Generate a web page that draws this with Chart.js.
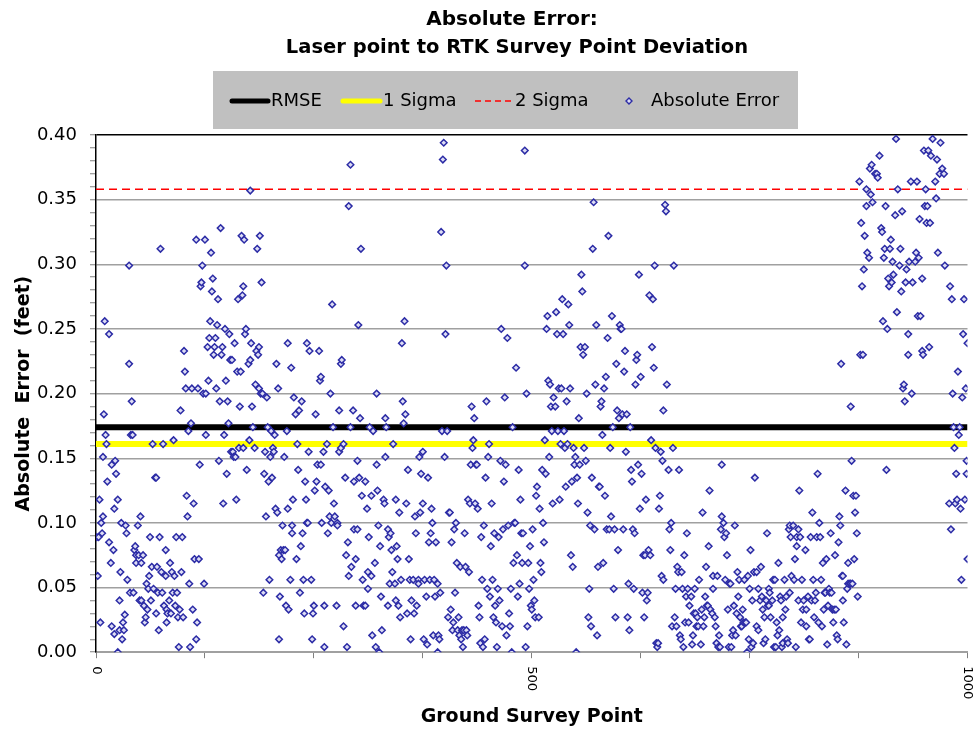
<!DOCTYPE html>
<html>
<head>
<meta charset="utf-8">
<script src="https://cdn.jsdelivr.net/npm/chart.js@4.4.0/dist/chart.umd.min.js"></script>
<style>
  html, body { margin: 0; padding: 0; background: #fff; }
  #wrap { width: 973px; height: 733px; }
</style>
</head>
<body>
<div id="wrap"><canvas id="chart-abs-error" width="973" height="733"></canvas></div>
<script>
'use strict';

/* Texts */
const titleText    = 'Absolute Error:';
const subtitleText = 'Laser point to RTK Survey Point Deviation';
const xTitleText   = 'Ground Survey Point';
const yTitleText   = 'Absolute  Error  (feet)';

/* Reference levels (feet) */
const rmseLevel   = 0.174;
const sigma1Level = 0.161;
const sigma2Level = 0.358;

/* Axis ranges and labelled ticks */
const xRange      = [0, 1000];
const xTickLabels = [0, 500, 1000];
const yRange      = [0, 0.4];

/* Absolute error per ground survey point, [point, error] */
const errPoints0to245 = [
  [1,0.089],[3,0.089],[2,0.059],[4,0.118],[5,0.023],[6,0.100],[7,0.092],[8,0.151],[8,0.105],[9,0.184],
  [10,0.256],[11,0.168],[12,0.161],[13,0.132],[15,0.246],[15,0.085],[17,0.069],[18,0.020],[18,0.145],[20,0.079],
  [21,0.014],[21,0.111],[22,0.148],[23,0.138],[25,0.000],[25,0.118],[27,0.040],[27,0.017],[28,0.062],[29,0.100],
  [30,0.010],[31,0.023],[32,0.017],[33,0.029],[34,0.098],[35,0.092],[36,0.056],[38,0.223],[38,0.299],[39,0.046],
  [40,0.168],[41,0.194],[42,0.168],[43,0.046],[44,0.079],[45,0.082],[46,0.069],[46,0.075],[48,0.098],[49,0.075],
  [50,0.040],[51,0.105],[52,0.069],[52,0.040],[54,0.075],[55,0.036],[56,0.023],[57,0.027],[58,0.053],[59,0.033],
  [60,0.049],[61,0.059],[62,0.089],[63,0.040],[64,0.066],[65,0.161],[66,0.049],[68,0.135],[69,0.135],[69,0.030],
  [70,0.066],[71,0.046],[72,0.017],[73,0.089],[74,0.312],[75,0.062],[76,0.046],[77,0.161],[78,0.036],[80,0.059],
  [80,0.079],[81,0.033],[81,0.023],[82,0.030],[84,0.040],[85,0.069],[86,0.030],[87,0.062],[88,0.046],[89,0.164],
  [90,0.059],[91,0.036],[92,0.089],[93,0.046],[94,0.027],[95,0.004],[96,0.033],[97,0.187],[98,0.062],[99,0.089],
  [100,0.027],[101,0.233],[102,0.217],[103,0.204],[104,0.121],[105,0.105],[106,0.171],[107,0.053],[108,0.004],[109,0.177],
  [110,0.204],[111,0.033],[112,0.115],[113,0.072],[115,0.010],[115,0.319],[116,0.023],[117,0.204],[118,0.072],[119,0.145],
  [120,0.283],[121,0.286],[122,0.299],[123,0.200],[124,0.053],[125,0.319],[126,0.168],[126,0.200],[128,0.236],[129,0.210],
  [130,0.243],[131,0.256],[132,0.309],[133,0.279],[134,0.289],[135,0.230],[136,0.236],[137,0.243],[138,0.204],[139,0.253],
  [140,0.273],[141,0.148],[142,0.194],[143,0.328],[144,0.230],[145,0.236],[146,0.115],[147,0.168],[148,0.250],[149,0.210],
  [150,0.138],[151,0.194],[152,0.177],[153,0.246],[154,0.226],[155,0.155],[156,0.226],[157,0.155],[158,0.151],[159,0.239],
  [160,0.151],[161,0.118],[162,0.217],[163,0.273],[164,0.158],[165,0.190],[166,0.217],[167,0.322],[168,0.276],[169,0.283],
  [169,0.158],[170,0.319],[171,0.246],[172,0.250],[173,0.141],[175,0.223],[176,0.164],[177,0.226],[177,0.357],[178,0.239],
  [179,0.190],[180,0.174],[182,0.158],[183,0.207],[184,0.233],[185,0.312],[186,0.230],[187,0.204],[187,0.236],[188,0.322],
  [189,0.200],[190,0.286],[191,0.200],[192,0.046],[193,0.138],[194,0.155],[195,0.105],[196,0.197],[197,0.174],[198,0.132],
  [199,0.056],[200,0.151],[201,0.171],[202,0.135],[203,0.158],[204,0.155],[205,0.168],[206,0.111],[207,0.223],[208,0.108],
  [209,0.204],[210,0.075],[210,0.010],[211,0.043],[212,0.079],[213,0.072],[214,0.098],[215,0.079],[216,0.151],[217,0.079],
  [218,0.036],[219,0.171],[220,0.239],[220,0.111],[221,0.033],[223,0.056],[224,0.220],[225,0.098],[225,0.092],[226,0.118],
  [227,0.197],[229,0.184],[230,0.072],[231,0.161],[232,0.141],[233,0.187],[234,0.046],[235,0.082],[236,0.194],[237,0.092],
  [238,0.056],[239,0.030],[240,0.132],[241,0.118],[242,0.239],[242,0.100],[243,0.100],[244,0.155],[245,0.233],
];

const errPoints246to506 = [
  [247,0.056],[248,0.010],[249,0.030],[250,0.036],[251,0.125],[252,0.184],[253,0.132],[254,0.145],[256,0.233],[257,0.210],
  [258,0.213],[258,0.145],[259,0.100],[261,0.155],[262,0.004],[262,0.036],[263,0.128],[265,0.161],[266,0.092],[267,0.125],
  [268,0.105],[269,0.200],[270,0.100],[271,0.269],[272,0.174],[273,0.115],[274,0.105],[276,0.036],[277,0.100],[277,0.098],
  [279,0.155],[279,0.187],[281,0.158],[281,0.223],[282,0.226],[284,0.161],[284,0.020],[286,0.135],[287,0.075],[288,0.004],
  [289,0.085],[290,0.059],[290,0.345],[292,0.174],[292,0.377],[293,0.066],[295,0.187],[296,0.132],[296,0.095],[298,0.072],
  [298,0.036],[300,0.095],[300,0.148],[301,0.253],[302,0.135],[303,0.181],[304,0.312],[305,0.121],[306,0.056],[307,0.036],
  [309,0.132],[309,0.036],[311,0.111],[312,0.049],[312,0.062],[313,0.089],[314,0.174],[316,0.121],[316,0.059],[317,0.013],
  [318,0.171],[320,0.069],[321,0.004],[322,0.200],[322,0.145],[323,0.125],[324,0.098],[325,0.000],[326,0.082],[327,0.043],
  [328,0.017],[330,0.118],[331,0.115],[332,0.181],[332,0.151],[333,0.174],[335,0.036],[335,0.095],[336,0.089],[337,0.053],
  [338,0.092],[339,0.079],[340,0.062],[341,0.161],[343,0.053],[344,0.118],[344,0.040],[345,0.082],[346,0.072],[347,0.036],
  [348,0.108],[349,0.027],[350,0.056],[351,0.239],[352,0.194],[353,0.177],[354,0.256],[355,0.184],[356,0.115],[357,0.030],
  [358,0.141],[359,0.072],[360,0.056],[361,0.010],[362,0.040],[364,0.056],[365,0.030],[366,0.105],[367,0.092],[368,0.036],
  [370,0.056],[370,0.053],[371,0.151],[372,0.108],[373,0.138],[375,0.155],[375,0.115],[376,0.010],[377,0.056],[379,0.043],
  [380,0.006],[381,0.135],[382,0.085],[383,0.056],[384,0.092],[385,0.111],[386,0.100],[387,0.013],[388,0.056],[389,0.043],
  [390,0.085],[392,0.053],[392,0.000],[393,0.013],[394,0.010],[395,0.046],[396,0.325],[397,0.171],[398,0.381],[399,0.394],
  [400,0.151],[401,0.246],[402,0.299],[403,0.171],[404,0.027],[405,0.108],[406,0.108],[407,0.033],[408,0.085],[409,0.017],
  [410,0.023],[411,0.095],[412,0.046],[413,0.100],[414,0.069],[415,0.017],[416,0.027],[417,0.013],[418,0.066],[419,0.010],
  [420,0.017],[421,0.004],[422,0.017],[423,0.092],[424,0.066],[425,0.017],[426,0.013],[427,0.118],[428,0.062],[429,0.115],
  [430,0.145],[431,0.190],[432,0.158],[433,0.164],[434,0.181],[435,0.115],[436,0.145],[437,0.145],[438,0.111],[439,0.036],
  [440,0.027],[441,0.007],[442,0.089],[443,0.056],[444,0.004],[445,0.098],[446,0.010],[447,0.135],[448,0.194],[449,0.049],
  [450,0.151],[451,0.161],[452,0.043],[453,0.082],[454,0.115],[455,0.056],[456,0.027],[457,0.092],[458,0.036],[459,0.023],
  [460,0.004],[461,0.049],[462,0.089],[463,0.040],[464,0.148],[465,0.250],[466,0.020],[467,0.095],[468,0.132],[469,0.197],
  [470,0.145],[471,0.013],[472,0.243],[473,0.098],[474,0.030],[475,0.020],[476,0.049],[477,0.000],[478,0.174],[479,0.069],
  [480,0.100],[481,0.100],[482,0.220],[483,0.075],[484,0.043],[485,0.141],[486,0.053],[487,0.118],[488,0.092],[489,0.069],
  [490,0.092],[492,0.299],[492,0.388],[493,0.004],[494,0.200],[495,0.020],[496,0.069],[497,0.049],[498,0.082],[499,0.036],
  [500,0.033],[501,0.095],[502,0.056],[503,0.040],[504,0.027],[505,0.121],[506,0.128],
];

const errPoints507to756 = [
  [508,0.027],[509,0.111],[510,0.069],[511,0.062],[512,0.141],[513,0.100],[514,0.085],[515,0.164],[516,0.138],[517,0.250],
  [518,0.260],[519,0.210],[520,0.151],[521,0.207],[522,0.190],[523,0.171],[524,0.115],[525,0.197],[527,0.190],[528,0.263],
  [529,0.246],[530,0.171],[531,0.204],[532,0.118],[533,0.161],[534,0.204],[535,0.273],[536,0.246],[537,0.171],[538,0.158],
  [539,0.128],[540,0.194],[541,0.161],[542,0.269],[543,0.253],[544,0.204],[545,0.075],[546,0.132],[547,0.066],[548,0.158],
  [549,0.145],[550,0.151],[551,0.000],[552,0.135],[553,0.115],[554,0.181],[555,0.145],[556,0.236],[557,0.292],[558,0.279],
  [559,0.230],[560,0.158],[561,0.236],[562,0.148],[563,0.200],[564,0.108],[565,0.027],[566,0.049],[567,0.098],[568,0.020],
  [569,0.135],[570,0.312],[571,0.348],[572,0.095],[573,0.207],[574,0.253],[575,0.013],[576,0.066],[577,0.128],[578,0.128],
  [579,0.190],[580,0.194],[581,0.168],[582,0.069],[583,0.204],[584,0.121],[585,0.213],[586,0.095],[587,0.243],[588,0.322],
  [589,0.095],[590,0.158],[591,0.105],[592,0.260],[593,0.174],[594,0.049],[595,0.095],[596,0.027],[597,0.223],[598,0.187],
  [599,0.079],[600,0.181],[601,0.253],[602,0.250],[603,0.250],[604,0.184],[605,0.095],[606,0.217],[607,0.233],[608,0.155],
  [609,0.184],[610,0.027],[611,0.053],[612,0.017],[613,0.174],[614,0.141],[615,0.132],[616,0.095],[617,0.049],[618,0.092],
  [619,0.207],[620,0.226],[621,0.230],[622,0.145],[623,0.292],[624,0.111],[625,0.213],[626,0.138],[627,0.046],[628,0.075],
  [629,0.027],[630,0.075],[631,0.118],[632,0.040],[633,0.046],[634,0.079],[635,0.276],[636,0.075],[637,0.164],[638,0.236],
  [639,0.273],[640,0.220],[641,0.299],[642,0.158],[643,0.007],[644,0.004],[645,0.007],[646,0.111],[647,0.121],[648,0.155],
  [649,0.059],[650,0.148],[651,0.056],[651,0.187],[653,0.346],[654,0.341],[655,0.207],[657,0.141],[658,0.095],[659,0.079],
  [660,0.100],[661,0.020],[662,0.158],[663,0.299],[664,0.027],[665,0.049],[666,0.020],[667,0.066],[668,0.062],[669,0.141],
  [670,0.013],[671,0.010],[672,0.062],[673,0.049],[674,0.004],[675,0.075],[676,0.023],[677,0.043],[678,0.092],[679,0.049],
  [680,0.023],[681,0.036],[683,0.043],[684,0.006],[685,0.013],[686,0.030],[687,0.049],[688,0.030],[689,0.020],[690,0.027],
  [691,0.020],[692,0.056],[694,0.006],[695,0.033],[696,0.108],[697,0.020],[698,0.027],[699,0.043],[700,0.066],[701,0.036],
  [702,0.036],[703,0.082],[704,0.125],[705,0.033],[707,0.030],[708,0.059],[708,0.049],[710,0.027],[711,0.020],[712,0.007],
  [713,0.059],[714,0.004],[715,0.013],[716,0.004],[717,0.095],[718,0.105],[718,0.145],[720,0.100],[721,0.089],[722,0.056],
  [723,0.092],[724,0.075],[725,0.033],[726,0.004],[727,0.053],[728,0.053],[729,0.004],[730,0.013],[731,0.017],[732,0.036],
  [733,0.098],[734,0.013],[735,0.030],[736,0.062],[737,0.043],[738,0.056],[739,0.027],[740,0.020],[741,0.020],[742,0.033],
  [743,0.023],[744,0.056],[745,0.023],[746,0.023],[747,0.000],[748,0.059],[749,0.010],[750,0.049],[751,0.079],[752,0.004],
  [753,0.040],[754,0.007],[755,0.062],[756,0.135],
];

const errPoints757to1000 = [
  [758,0.062],[758,0.020],[760,0.049],[760,0.017],[762,0.040],[763,0.066],[764,0.043],[765,0.033],[766,0.007],[767,0.027],
  [768,0.010],[769,0.040],[770,0.092],[771,0.036],[772,0.049],[772,0.036],[773,0.046],[774,0.027],[776,0.040],[777,0.056],
  [778,0.004],[779,0.056],[780,0.004],[781,0.023],[782,0.013],[783,0.069],[784,0.017],[785,0.043],[786,0.040],[787,0.004],
  [788,0.007],[788,0.027],[790,0.056],[791,0.033],[792,0.043],[793,0.010],[794,0.007],[795,0.095],[796,0.046],[796,0.098],
  [797,0.089],[798,0.059],[800,0.098],[801,0.056],[802,0.072],[803,0.004],[804,0.082],[804,0.089],[806,0.095],[806,0.040],
  [807,0.125],[808,0.089],[809,0.023],[810,0.056],[811,0.033],[812,0.040],[814,0.079],[815,0.033],[815,0.020],[817,0.043],
  [818,0.010],[819,0.010],[820,0.089],[821,0.040],[822,0.108],[823,0.056],[824,0.027],[825,0.040],[826,0.046],[827,0.089],
  [828,0.138],[829,0.023],[830,0.100],[831,0.089],[832,0.056],[833,0.020],[834,0.069],[835,0.033],[836,0.046],[837,0.046],
  [838,0.072],[839,0.006],[840,0.036],[841,0.049],[842,0.046],[843,0.092],[844,0.046],[845,0.033],[846,0.023],[847,0.033],
  [848,0.075],[849,0.033],[850,0.013],[851,0.010],[852,0.085],[853,0.105],[854,0.098],[855,0.223],[856,0.059],[857,0.040],
  [857,0.059],[858,0.023],[860,0.125],[861,0.006],[862,0.049],[863,0.053],[863,0.069],[865,0.053],[866,0.053],[866,0.190],
  [867,0.148],[868,0.053],[869,0.121],[870,0.072],[871,0.108],[872,0.121],[873,0.092],[874,0.043],[876,0.364],[877,0.230],
  [878,0.332],[879,0.283],[880,0.230],[881,0.296],[882,0.322],[884,0.358],[884,0.345],[885,0.309],[887,0.305],[888,0.374],
  [889,0.354],[890,0.377],[891,0.348],[894,0.370],[896,0.370],[897,0.367],[899,0.384],[901,0.328],[902,0.325],[903,0.256],
  [904,0.305],[905,0.312],[906,0.345],[907,0.141],[908,0.250],[909,0.289],[910,0.283],[911,0.312],[912,0.319],[913,0.286],
  [914,0.302],[915,0.292],[917,0.338],[918,0.397],[919,0.263],[920,0.358],[922,0.299],[923,0.312],[924,0.279],[925,0.341],
  [926,0.204],[927,0.207],[928,0.194],[929,0.286],[930,0.296],[932,0.246],[932,0.230],[933,0.302],[935,0.364],[936,0.200],
  [937,0.286],[940,0.302],[941,0.309],[942,0.364],[943,0.260],[944,0.305],[945,0.335],[946,0.260],[948,0.289],[948,0.233],
  [949,0.230],[950,0.388],[951,0.345],[952,0.358],[953,0.332],[954,0.345],[955,0.388],[956,0.236],[957,0.332],[958,0.384],
  [960,0.397],[963,0.364],[964,0.351],[965,0.381],[966,0.309],[968,0.370],[969,0.394],[971,0.374],[973,0.370],[974,0.299],
  [979,0.115],[980,0.283],[981,0.095],[982,0.273],[983,0.200],[984,0.174],[985,0.158],[986,0.115],[987,0.138],[988,0.118],
  [989,0.217],[990,0.168],[991,0.174],[992,0.111],[993,0.056],[994,0.197],[995,0.246],[996,0.273],[997,0.118],[998,0.204],
  [999,0.138],[999,0.148],[1000,0.239],[1000,0.072],
];

/* Styling */
const FONT = '"DejaVu Sans", "Open Sans", sans-serif';
const COLORS = {
  rmse:   '#000000',
  sigma1: '#ffff00',
  sigma2: '#ff0000',
  marker: '#2c2ca6',
  markerFill: '#dcdcf4',
  grid:   '#a0a0a0',
  legendBg: '#c0c0c0',
};

const toXY = ([x, y]) => ({ x, y });
const levelLine = level => xRange.map(x => ({ x, y: level }));
const isMajorY = v => Math.abs(v * 20 - Math.round(v * 20)) < 1e-6;

/* Title, subtitle, legend box and rotated x tick labels */
const decorPlugin = {
  id: 'decor',
  afterDraw(chart) {
    const ctx = chart.ctx;
    ctx.save();

    /* Titles */
    ctx.fillStyle = '#000';
    ctx.textAlign = 'center';
    ctx.textBaseline = 'middle';
    ctx.font = `bold 20px ${FONT}`;
    ctx.fillText(titleText, 512, 20);
    ctx.font = `bold 19.5px ${FONT}`;
    ctx.fillText(subtitleText, 517, 48);

    /* Legend */
    const ly = 101;
    ctx.fillStyle = COLORS.legendBg;
    ctx.fillRect(213, 71, 585, 58);

    ctx.lineCap = 'round';
    ctx.lineWidth = 5;
    ctx.strokeStyle = COLORS.rmse;
    ctx.beginPath(); ctx.moveTo(232, ly); ctx.lineTo(268, ly); ctx.stroke();
    ctx.strokeStyle = COLORS.sigma1;
    ctx.beginPath(); ctx.moveTo(343, ly); ctx.lineTo(380, ly); ctx.stroke();
    ctx.lineCap = 'butt';
    ctx.lineWidth = 1.5;
    ctx.strokeStyle = COLORS.sigma2;
    ctx.setLineDash([6, 4]);
    ctx.beginPath(); ctx.moveTo(475, ly); ctx.lineTo(512, ly); ctx.stroke();
    ctx.setLineDash([]);

    /* marker sample */
    ctx.fillStyle = COLORS.markerFill;
    ctx.strokeStyle = COLORS.marker;
    ctx.lineWidth = 1.4;
    ctx.beginPath();
    ctx.moveTo(629, ly - 3); ctx.lineTo(632, ly); ctx.lineTo(629, ly + 3); ctx.lineTo(626, ly);
    ctx.closePath(); ctx.fill(); ctx.stroke();

    ctx.fillStyle = '#000';
    ctx.textAlign = 'left';
    ctx.font = `18px ${FONT}`;
    ctx.fillText('RMSE', 271, ly);
    ctx.fillText('1 Sigma', 383, ly);
    ctx.fillText('2 Sigma', 515, ly);
    ctx.fillText('Absolute Error', 651, ly);

    /* x tick labels, rotated clockwise */
    const xs = chart.scales.x;
    ctx.font = `13px ${FONT}`;
    ctx.textBaseline = 'middle';
    ctx.textAlign = 'left';
    xTickLabels.forEach(v => {
      const px = xs.getPixelForValue(v);
      ctx.save();
      ctx.translate(px, xs.top + 14);
      ctx.rotate(Math.PI / 2);
      ctx.fillText(String(v), 0, 0);
      ctx.restore();
    });

    ctx.restore();
  },
};

const ctx = document.getElementById('chart-abs-error').getContext('2d');
new Chart(ctx, {
  type: 'scatter',
  data: {
    datasets: [
      {
        label: 'Absolute Error',
        data: [...errPoints0to245, ...errPoints246to506, ...errPoints507to756, ...errPoints757to1000].map(toXY),
        pointStyle: 'rectRot',
        pointRadius: 3.3,
        borderWidth: 1.5,
        borderColor: COLORS.marker,
        backgroundColor: COLORS.markerFill,
        order: 0,
      },
      {
        type: 'line',
        label: 'RMSE',
        data: levelLine(rmseLevel),
        borderColor: COLORS.rmse,
        borderWidth: 6,
        pointRadius: 0,
        order: 2,
      },
      {
        type: 'line',
        label: '1 Sigma',
        data: levelLine(sigma1Level),
        borderColor: COLORS.sigma1,
        borderWidth: 6,
        pointRadius: 0,
        order: 3,
      },
      {
        type: 'line',
        label: '2 Sigma',
        data: levelLine(sigma2Level),
        borderColor: COLORS.sigma2,
        borderWidth: 1.5,
        borderDash: [8, 5],
        pointRadius: 0,
        order: 1,
      },
    ],
  },
  options: {
    responsive: false,
    animation: false,
    layout: { padding: { top: 135, right: 1, bottom: 3, left: 0 } },
    plugins: {
      legend: { display: false },
      title: { display: false },
      tooltip: { enabled: false },
    },
    scales: {
      x: {
        type: 'linear',
        min: xRange[0],
        max: xRange[1],
        border: { color: COLORS.grid, width: 2 },
        grid: { drawOnChartArea: false, drawTicks: true, tickLength: 6, tickColor: '#808080', tickWidth: 1 },
        ticks: { display: false, stepSize: 125 },
        title: {
          display: true,
          text: xTitleText,
          color: '#000',
          font: { family: FONT, size: 19, weight: 'bold' },
          padding: { top: 47, bottom: 2 },
        },
      },
      y: {
        min: yRange[0],
        max: yRange[1],
        afterFit: scale => { scale.width = 96; },
        border: { color: '#000', width: 1.5 },
        grid: {
          color: c => (c.tick.value >= 0.3999 ? '#000' : isMajorY(c.tick.value) ? COLORS.grid : 'rgba(0,0,0,0)'),
          lineWidth: 1.5,
          tickColor: '#808080',
          tickWidth: 1,
          tickLength: 6,
        },
        ticks: {
          stepSize: 0.01,
          autoSkip: false,
          padding: 13,
          color: '#000',
          font: { family: FONT, size: 18 },
          callback: v => (isMajorY(v) ? v.toFixed(2) : ''),
        },
        title: {
          display: true,
          text: yTitleText,
          color: '#000',
          font: { family: FONT, size: 19, weight: 'bold' },
          padding: { top: 13, bottom: 0 },
        },
      },
    },
  },
  plugins: [decorPlugin],
});
</script>
</body>
</html>
